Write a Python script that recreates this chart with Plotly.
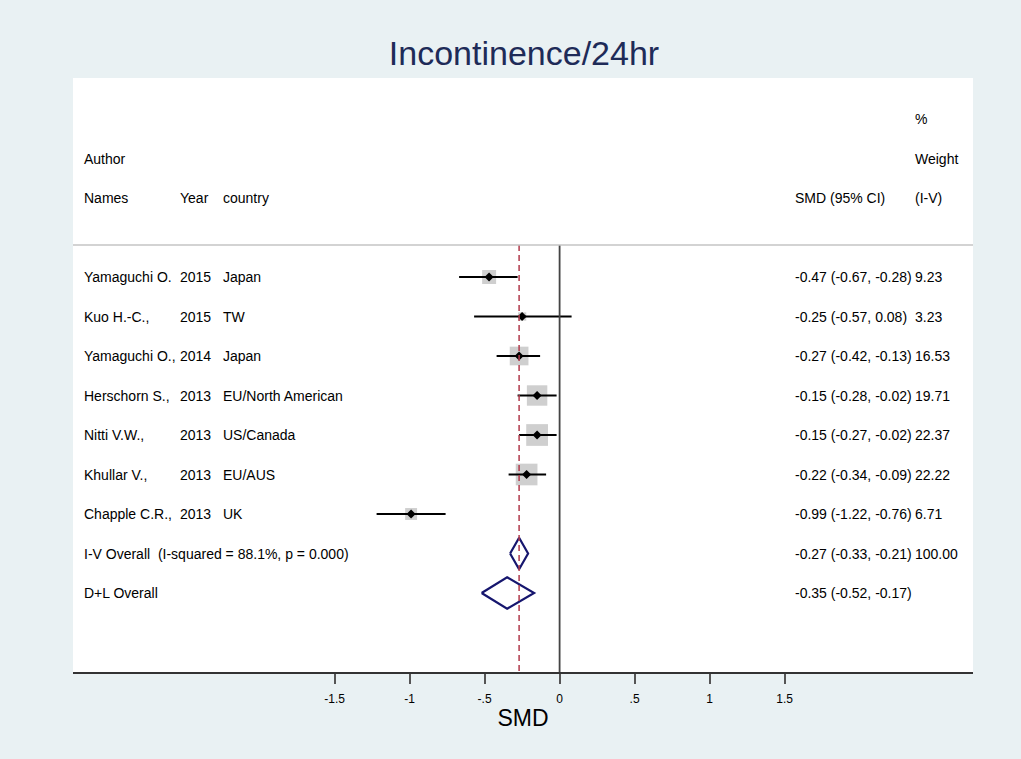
import numpy as np
import plotly.graph_objects as go

# ---- study data ----
authors = ["Yamaguchi O.", "Kuo H.-C.,", "Yamaguchi O.,", "Herschorn S.,",
           "Nitti V.W.,", "Khullar V.,", "Chapple C.R.,"]
years = ["2015", "2015", "2014", "2013", "2013", "2013", "2013"]
countries = ["Japan", "TW", "Japan", "EU/North American", "US/Canada",
             "EU/AUS", "UK"]
smd = [-0.47, -0.25, -0.27, -0.15, -0.15, -0.22, -0.99]
ci_low = [-0.67, -0.57, -0.42, -0.28, -0.27, -0.34, -1.22]
ci_high = [-0.28, 0.08, -0.13, -0.02, -0.02, -0.09, -0.76]
weights = [9.23, 3.23, 16.53, 19.71, 22.37, 22.22, 6.71]

# ---- pooled estimates ----
pooled_labels = ["I-V Overall\u00a0\u00a0(I-squared = 88.1%, p = 0.000)", "D+L Overall"]
pooled_smd = [-0.27, -0.35]
pooled_low = [-0.33, -0.52]
pooled_high = [-0.21, -0.17]
pooled_weight = ["100.00", ""]

tick_vals = [-1.5, -1, -0.5, 0, 0.5, 1, 1.5]
tick_text = ["-1.5", "-1", "-.5", "0", ".5", "1", "1.5"]

FONT = "Liberation Sans, Arial, sans-serif"
BG = "#E9F1F3"
NAVY = "#16166E"

n = len(smd)
rows = list(range(n))
pooled_rows = [n, n + 1]
top_rule = -0.81

fig = go.Figure()

# weight boxes (area proportional to weight)
fig.add_trace(go.Scatter(
    x=smd, y=rows, mode="markers",
    marker=dict(symbol="square", size=[4.6 * np.sqrt(w) for w in weights],
                color="#BBBBBB", line=dict(width=0)),
    hoverinfo="skip"))

# confidence intervals
cx, cy = [], []
for lo, hi, r in zip(ci_low, ci_high, rows):
    cx += [lo, hi, None]
    cy += [r, r, None]
fig.add_trace(go.Scatter(x=cx, y=cy, mode="lines",
                         line=dict(color="black", width=2.2), hoverinfo="skip"))

# point estimates
fig.add_trace(go.Scatter(
    x=smd, y=rows, mode="markers",
    marker=dict(symbol="diamond", size=7, color="black"), hoverinfo="skip"))

# pooled diamonds
half_h = 0.4
for est, lo, hi, r in zip(pooled_smd, pooled_low, pooled_high, pooled_rows):
    fig.add_trace(go.Scatter(
        x=[lo, est, hi, est, lo], y=[r, r - half_h, r, r + half_h, r],
        mode="lines", line=dict(color=NAVY, width=2.2), hoverinfo="skip"))

y_bottom = 10.0
y_top = -5.038

# line of no effect and pooled (I-V) estimate line
fig.add_shape(type="line", xref="x", yref="y", x0=0, x1=0, y0=top_rule, y1=y_bottom,
              line=dict(color="#444444", width=1.8))
fig.add_shape(type="line", xref="x", yref="y", x0=pooled_smd[0], x1=pooled_smd[0],
              y0=top_rule, y1=y_bottom,
              line=dict(color="#B23A4C", width=1.5, dash="6px,4px"))
# header rule
fig.add_shape(type="line", xref="paper", yref="y", x0=0, x1=1, y0=top_rule, y1=top_rule,
              line=dict(color="#C4C4C4", width=1.5))


def px_to_paper(px):
    return (px - 73) / 900.0


col_author = px_to_paper(82)
col_year = px_to_paper(178)
col_country = px_to_paper(221)
col_es = px_to_paper(793)
col_wt = px_to_paper(913)

annotations = []


def add_text(x, y, text):
    annotations.append(dict(x=x, y=y, xref="paper", yref="y", text=text,
                            showarrow=False, xanchor="left", yanchor="middle",
                            font=dict(family=FONT, size=14, color="black")))


# header
add_text(col_wt, -4, "%")
add_text(col_author, -3, "Author")
add_text(col_wt, -3, "Weight")
add_text(col_author, -2, "Names")
add_text(col_year, -2, "Year")
add_text(col_country, -2, "country")
add_text(col_es, -2, "SMD (95% CI)")
add_text(col_wt, -2, "(I-V)")

for i in range(n):
    add_text(col_author, i, authors[i])
    add_text(col_year, i, years[i])
    add_text(col_country, i, countries[i])
    add_text(col_es, i, f"{smd[i]:.2f} ({ci_low[i]:.2f}, {ci_high[i]:.2f})")
    add_text(col_wt, i, f"{weights[i]:.2f}")

for j, r in enumerate(pooled_rows):
    add_text(col_author, r, pooled_labels[j])
    add_text(col_es, r, f"{pooled_smd[j]:.2f} ({pooled_low[j]:.2f}, {pooled_high[j]:.2f})")
    if pooled_weight[j]:
        add_text(col_wt, r, pooled_weight[j])

fig.update_layout(
    width=1021, height=759, autosize=False,
    margin=dict(l=73, r=48, t=78, b=87, pad=0),
    paper_bgcolor=BG, plot_bgcolor="white",
    showlegend=False,
    title=dict(text="Incontinence/24hr", x=(524 / 1021), xanchor="center",
               y=1 - 53 / 759, yanchor="middle",
               font=dict(family="Liberation Sans Narrow, Arial Narrow, sans-serif",
                         size=34, color="#1E2B58")),
    annotations=annotations,
    xaxis=dict(range=[(73 - 559.6) / 150, (973 - 559.6) / 150],
               tickvals=tick_vals, ticktext=tick_text,
               ticks="outside", ticklen=10, tickwidth=2, tickcolor="#555555",
               ticklabelstandoff=5,
               showline=True, linecolor="#333333", linewidth=2,
               showgrid=False, zeroline=False,
               tickfont=dict(family=FONT, size=12, color="black"),
               title=dict(text="SMD", font=dict(family=FONT, size=23, color="black"),
                          standoff=4)),
    yaxis=dict(range=[y_bottom, y_top], visible=False, showgrid=False, zeroline=False),
)

fig.write_html("out.html")
